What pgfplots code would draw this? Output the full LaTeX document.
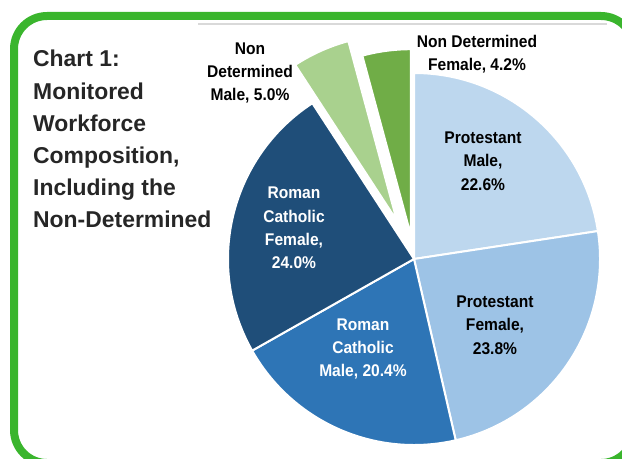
\documentclass[border=0pt]{standalone}
\usepackage{pgfplots}
\pgfplotsset{compat=1.18}
\usepackage{fontspec}
\setmainfont{Liberation Sans}
\newfontfamily\lab[FakeStretch=0.92]{Liberation Sans}
\definecolor{pm}{HTML}{BDD7EE}
\definecolor{pf}{HTML}{9DC3E6}
\definecolor{rm}{HTML}{2E75B6}
\definecolor{rf}{HTML}{1F4E79}
\definecolor{nm}{HTML}{A9D18E}
\definecolor{nf}{HTML}{70AD47}
\definecolor{framegreen}{HTML}{3AB52D}
\definecolor{ttl}{HTML}{262626}
\definecolor{grayline}{HTML}{D9D9D9}
% slice: start (cumulative %), value (%), explode (bp), colour
\newcommand\slice[4]{%
  \fill[#4,draw=white,line width=2bp]
    ([shift={({90-3.6*(#1+#2/2)}:#3bp)}]axis cs:414,259)
    -- ++({90-3.6*(#1)}:186bp)
    arc[start angle={90-3.6*(#1)}, end angle={90-3.6*(#1+#2)}, radius=186bp]
    -- cycle;}
\begin{document}
\begin{tikzpicture}
\begin{axis}[
  scale only axis, width=622bp, height=459bp,
  xmin=0, xmax=622, ymin=0, ymax=459, y dir=reverse,
  enlargelimits=false, hide axis, clip=false]
  \coordinate (BL) at (axis cs:0,459);
  \coordinate (TR) at (axis cs:622,0);
  % frame
  \draw[framegreen, line width=8bp, rounded corners=33bp]
    (axis cs:14,16) rectangle (axis cs:634,463);
  \draw[grayline, line width=2bp] (axis cs:198,24.5) -- (axis cs:607,24.5);
  % pie: Protestant Male 22.6, Protestant Female 23.8, RC Male 20.4,
  % RC Female 24.0, ND Male 5.0, ND Female 4.2
  \slice{0}{22.6}{0}{pm}
  \slice{22.6}{23.8}{0}{pf}
  \slice{46.4}{20.4}{0}{rm}
  \slice{66.8}{24.0}{0}{rf}
  \slice{90.8}{5.0}{42}{nm}
  \slice{95.8}{4.2}{24}{nf}
  % title
  \begin{scope}[every node/.style={anchor=base west, inner sep=0pt, text=ttl,
      font=\bfseries\fontsize{23}{27}\selectfont}]
    \node at (axis cs:33,67) {Chart 1:};
    \node at (axis cs:33,99) {Monitored};
    \node at (axis cs:33,131) {Workforce};
    \node at (axis cs:33,163) {Composition,};
    \node at (axis cs:33,195) {Including the};
    \node at (axis cs:33,227) {Non-Determined};
  \end{scope}
  % labels
  \begin{scope}[every node/.style={align=center, inner sep=0pt,
      font=\lab\bfseries\fontsize{17}{23.5}\selectfont}]
    \node[text=black] at (axis cs:483,161) {Protestant\\Male,\\22.6\%};
    \node[text=black] at (axis cs:495,325) {Protestant\\Female,\\23.8\%};
    \node[text=white] at (axis cs:363,349) {Roman\\Catholic\\Male, 20.4\%};
    \node[text=white] at (axis cs:294,228) {Roman\\Catholic\\Female,\\24.0\%};
    \node[text=black] at (axis cs:250,73) {Non\\Determined\\Male, 5.0\%};
    \node[text=black] at (axis cs:477,54) {Non Determined\\Female, 4.2\%};
  \end{scope}
\end{axis}
\pgfresetboundingbox
\useasboundingbox (BL) rectangle (TR);
\end{tikzpicture}
\end{document}
